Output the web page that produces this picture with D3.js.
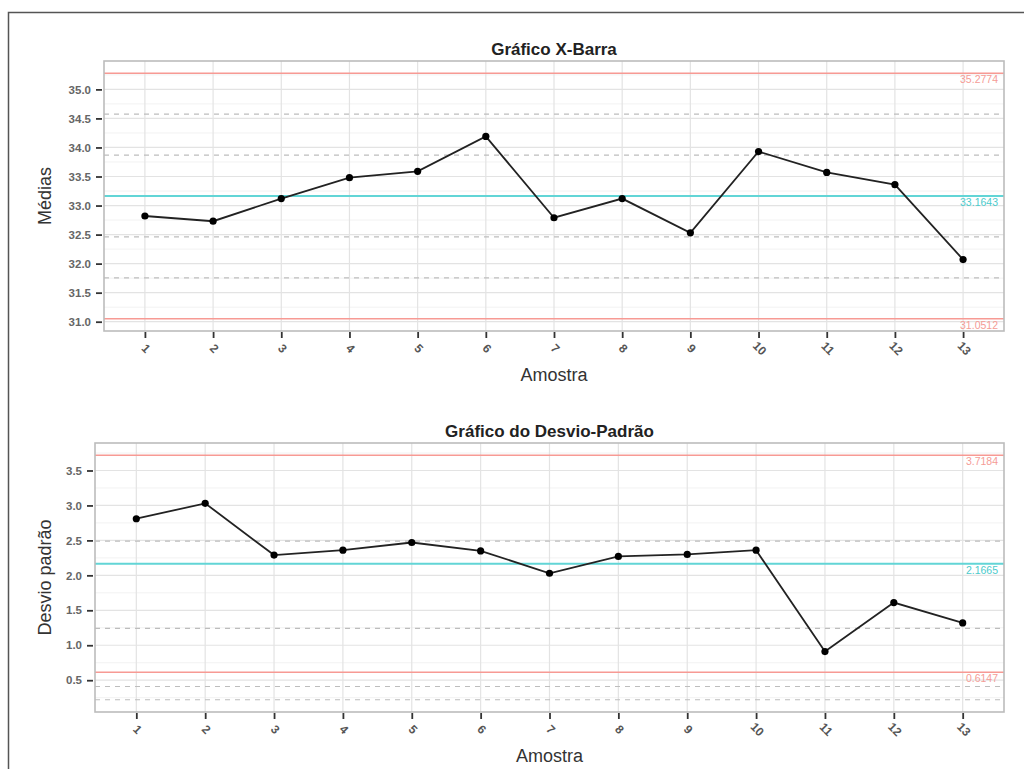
<!DOCTYPE html>
<html>
<head>
<meta charset="utf-8">
<script src="https://cdn.jsdelivr.net/npm/d3@7"></script>
<style>
  body { margin: 0; background: #fff; }
  svg { display: block; font-family: "Liberation Sans", Arial, sans-serif; }
</style>
</head>
<body>
<svg id="chart" width="1024" height="769"></svg>
<script>
// amostras (eixo x)
const samples = [1, 2, 3, 4, 5, 6, 7, 8, 9, 10, 11, 12, 13];

// grafico X-barra
const xbarMeans = [32.82, 32.73, 33.12, 33.48, 33.59, 34.19, 32.79, 33.12, 32.53, 33.93, 33.57, 33.36, 32.07];
const xbarLimits = [35.2774, 33.1643, 31.0512];
const xbarLimitText = ['35.2774', '33.1643', '31.0512'];
const xbarZones = [34.573, 33.869, 32.460, 31.756];
const xbarTicks = [31.0, 31.5, 32.0, 32.5, 33.0, 33.5, 34.0, 34.5, 35.0];

// grafico do desvio-padrao
const sdValues = [2.81, 3.03, 2.29, 2.36, 2.47, 2.35, 2.03, 2.27, 2.30, 2.36, 0.91, 1.61, 1.32];
const sdLimits = [3.7184, 2.1665, 0.6147];
const sdLimitText = ['3.7184', '2.1665', '0.6147'];
const sdZones = [2.49, 1.24, 0.41, 0.22];
const sdTicks = [0.5, 1.0, 1.5, 2.0, 2.5, 3.0, 3.5];

const svg = d3.select('#chart');

// moldura externa
svg.append('path')
  .attr('d', 'M8.5,775 L8.5,12.5 L1030,12.5')
  .attr('fill', 'none')
  .attr('stroke', '#555')
  .attr('stroke-width', 1.5);

function drawPanel(p) {
  const allVals = p.limits.concat(p.zones);
  const lo = d3.min(allVals), hi = d3.max(allVals);
  const pad = (hi - lo) * 0.05;

  const x = d3.scaleLinear()
    .domain([samples[0] - 0.6, samples[samples.length - 1] + 0.6])
    .range([p.left, p.right]);
  const y = d3.scaleLinear()
    .domain([lo - pad, hi + pad])
    .range([p.bottom, p.top]);

  const g = svg.append('g');

  // grade menor
  const step = p.ticks[1] - p.ticks[0];
  const minor = [];
  for (let i = -1; i < p.ticks.length; i++) {
    const v = p.ticks[0] + step * (i + 0.5);
    if (v > y.domain()[0] && v < y.domain()[1]) minor.push(v);
  }
  g.selectAll('.minor')
    .data(minor)
    .enter()
    .append('line')
    .attr('x1', p.left).attr('x2', p.right)
    .attr('y1', d => y(d)).attr('y2', d => y(d))
    .attr('stroke', '#f2f2f2')
    .attr('stroke-width', 1);

  // grade maior
  g.selectAll('.hmajor')
    .data(p.ticks)
    .enter()
    .append('line')
    .attr('x1', p.left).attr('x2', p.right)
    .attr('y1', d => y(d)).attr('y2', d => y(d))
    .attr('stroke', '#e3e3e3')
    .attr('stroke-width', 1.2);

  g.selectAll('.vmajor')
    .data(samples)
    .enter()
    .append('line')
    .attr('x1', d => x(d)).attr('x2', d => x(d))
    .attr('y1', p.top).attr('y2', p.bottom)
    .attr('stroke', '#e3e3e3')
    .attr('stroke-width', 1.2);

  // zonas (tracejado)
  g.selectAll('.zone')
    .data(p.zones)
    .enter()
    .append('line')
    .attr('x1', p.left).attr('x2', p.right)
    .attr('y1', d => y(d)).attr('y2', d => y(d))
    .attr('stroke', '#bdbdbd')
    .attr('stroke-width', 1.2)
    .attr('stroke-dasharray', '5,5');

  // limites de controle
  const limColors = ['#f79a94', '#62d5d6', '#f79a94'];
  const txtColors = ['#f59c96', '#4ccbcc', '#f59c96'];
  g.selectAll('.limit')
    .data(p.limits)
    .enter()
    .append('line')
    .attr('x1', p.left).attr('x2', p.right)
    .attr('y1', d => y(d)).attr('y2', d => y(d))
    .attr('stroke', (d, i) => limColors[i])
    .attr('stroke-width', (d, i) => i === 1 ? 2 : 1.6);

  g.selectAll('.limtext')
    .data(p.limits)
    .enter()
    .append('text')
    .attr('x', p.right - 6)
    .attr('y', d => y(d) + 10)
    .attr('text-anchor', 'end')
    .attr('font-size', 10.5)
    .attr('fill', (d, i) => txtColors[i])
    .text((d, i) => p.limitText[i]);

  // borda do painel
  g.append('rect')
    .attr('x', p.left).attr('y', p.top)
    .attr('width', p.right - p.left)
    .attr('height', p.bottom - p.top)
    .attr('fill', 'none')
    .attr('stroke', '#bcbcbc')
    .attr('stroke-width', 1.6);

  // serie
  const line = d3.line()
    .x((d, i) => x(samples[i]))
    .y(d => y(d));
  g.append('path')
    .datum(p.values)
    .attr('d', line)
    .attr('fill', 'none')
    .attr('stroke', '#222')
    .attr('stroke-width', 1.8);

  g.selectAll('.pt')
    .data(p.values)
    .enter()
    .append('circle')
    .attr('cx', (d, i) => x(samples[i]))
    .attr('cy', d => y(d))
    .attr('r', 3.6)
    .attr('fill', '#000');

  // eixo y
  const yAxis = d3.axisLeft(y)
    .tickValues(p.ticks)
    .tickFormat(d3.format('.1f'))
    .tickSize(6)
    .tickPadding(5);
  const ya = g.append('g')
    .attr('transform', 'translate(' + (p.left - 2) + ',0)')
    .call(yAxis);
  ya.select('.domain').remove();
  ya.selectAll('line').attr('stroke', '#333').attr('stroke-width', 1.8);
  ya.selectAll('text')
    .attr('font-size', 11.5)
    .attr('font-weight', 'bold')
    .attr('fill', '#666')
    .style('font-family', '"Liberation Sans", Arial, sans-serif');

  // eixo x
  const xAxis = d3.axisBottom(x)
    .tickValues(samples)
    .tickFormat(d3.format('d'))
    .tickSize(6)
    .tickPadding(4);
  const xa = g.append('g')
    .attr('transform', 'translate(0,' + (p.bottom + 1) + ')')
    .call(xAxis);
  xa.select('.domain').remove();
  xa.selectAll('line').attr('stroke', '#333').attr('stroke-width', 1.8);
  xa.selectAll('text')
    .attr('font-size', 12)
    .attr('font-weight', 'bold')
    .attr('fill', '#555')
    .attr('text-anchor', 'middle')
    .attr('y', 0)
    .attr('dy', 0)
    .attr('transform', 'translate(0,17) rotate(45)')
    .attr('dominant-baseline', 'middle');

  // titulos
  g.append('text')
    .attr('x', (p.left + p.right) / 2)
    .attr('y', p.top - 6)
    .attr('text-anchor', 'middle')
    .attr('font-size', 17)
    .attr('font-weight', 'bold')
    .attr('fill', '#222')
    .text(p.title);

  g.append('text')
    .attr('x', (p.left + p.right) / 2)
    .attr('y', p.bottom + 50)
    .attr('text-anchor', 'middle')
    .attr('font-size', 18)
    .attr('fill', '#333')
    .text('Amostra');

  g.append('text')
    .attr('transform', 'rotate(-90)')
    .attr('x', -(p.top + p.bottom) / 2)
    .attr('y', 51)
    .attr('text-anchor', 'middle')
    .attr('font-size', 18)
    .attr('fill', '#333')
    .style('font-family', '"Liberation Sans Narrow", "Liberation Sans", sans-serif')
    .text(p.yLabel);
}

drawPanel({
  title: 'Gráfico X-Barra', yLabel: 'Médias',
  values: xbarMeans, limits: xbarLimits, limitText: xbarLimitText,
  zones: xbarZones, ticks: xbarTicks,
  left: 104, right: 1004, top: 61, bottom: 331
});

drawPanel({
  title: 'Gráfico do Desvio-Padrão', yLabel: 'Desvio padrão',
  values: sdValues, limits: sdLimits, limitText: sdLimitText,
  zones: sdZones, ticks: sdTicks,
  left: 95, right: 1004, top: 443, bottom: 712
});
</script>
</body>
</html>
